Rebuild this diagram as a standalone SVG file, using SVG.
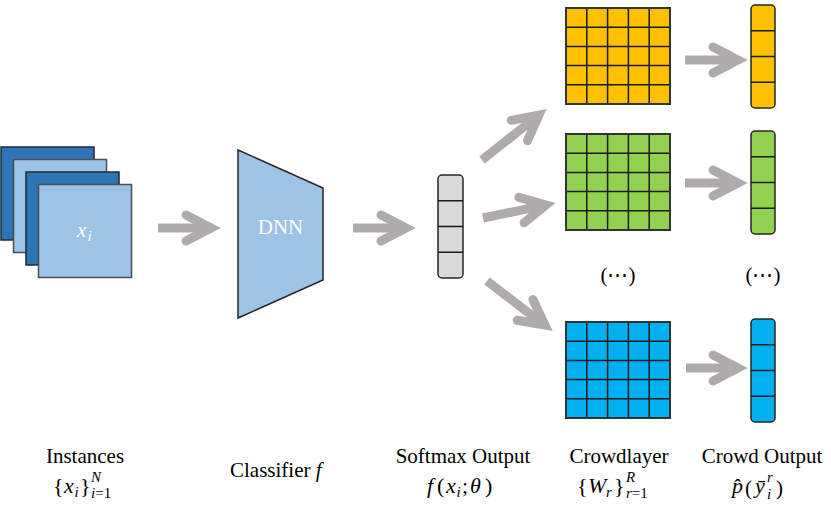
<svg xmlns="http://www.w3.org/2000/svg" width="831" height="506" viewBox="0 0 831 506">
<style>
.bg{fill:#fff}
.dk{fill:#2E75B6;stroke:#1f2a36;stroke-width:1.5}
.lt{fill:#9DC3E6;stroke:#4a4f55;stroke-width:1.5}
.grid{fill:none;stroke:#1a1a1a;stroke-width:1.5}
.y{fill:#FFC000}.g{fill:#92D050}.b{fill:#00B0F0}.s{fill:#D9D9D9}
.vec{stroke:#262626;stroke-width:1.5}
.ar{fill:none;stroke:#AFABAB;stroke-width:9;stroke-linejoin:miter;stroke-linecap:butt}
.hd{fill:none;stroke:#AFABAB;stroke-width:9;stroke-linejoin:miter;stroke-linecap:round}
.t{font-family:"Liberation Serif","Times New Roman",serif;font-size:21px;fill:#000}
.m{font-size:22px}
.it{font-style:italic}
.sm{font-size:15px}
.w{fill:#fff}
</style>
<rect class="bg" x="0" y="0" width="831" height="506"/>

<g id="instances">
  <rect class="dk" x="1" y="147" width="93" height="93"/>
  <rect class="lt" x="13.5" y="159.5" width="93" height="93"/>
  <rect class="dk" x="26" y="172" width="93" height="93"/>
  <rect class="lt" x="38.5" y="184.5" width="93" height="93"/>
  <text class="t w it" x="77" y="237" font-size="22">x</text>
  <text class="t w it sm" x="87.5" y="241">i</text>
</g>

<g id="dnn">
  <polygon points="238,150 323,188 323,280 238,318" fill="#9DC3E6" stroke="#262626" stroke-width="1.5"/>
  <text class="t w" x="280.5" y="234" font-size="18" text-anchor="middle">DNN</text>
</g>

<g id="softmax">
  <rect class="s vec" x="438" y="175" width="25" height="103" rx="4"/>
  <path class="grid" d="M438 200.75H463M438 226.5H463M438 252.25H463"/>
</g>

<g id="crowdlayer-1">
  <rect class="y" x="566" y="8" width="104" height="96"/>
  <path class="grid" d="M586.8 8V104M607.6 8V104M628.4 8V104M649.2 8V104M566 27.2H670M566 46.4H670M566 65.6H670M566 84.8H670"/>
  <rect x="566" y="8" width="104" height="96" fill="none" stroke="#333" stroke-width="2"/>
</g>
<g id="crowdlayer-2">
  <rect class="g" x="566" y="134" width="104" height="96"/>
  <path class="grid" d="M586.8 134V230M607.6 134V230M628.4 134V230M649.2 134V230M566 153.2H670M566 172.4H670M566 191.6H670M566 210.8H670"/>
  <rect x="566" y="134" width="104" height="96" fill="none" stroke="#333" stroke-width="2"/>
</g>
<g id="crowdlayer-r">
  <rect class="b" x="566" y="322" width="104" height="96"/>
  <path class="grid" d="M586.8 322V418M607.6 322V418M628.4 322V418M649.2 322V418M566 341.2H670M566 360.4H670M566 379.6H670M566 398.8H670"/>
  <rect x="566" y="322" width="104" height="96" fill="none" stroke="#333" stroke-width="2"/>
</g>

<g id="output-1">
  <rect class="y vec" x="751" y="5" width="24" height="103" rx="4"/>
  <path class="grid" d="M751 30.75H775M751 56.5H775M751 82.25H775"/>
</g>
<g id="output-2">
  <rect class="g vec" x="751" y="131" width="24" height="103" rx="4"/>
  <path class="grid" d="M751 156.75H775M751 182.5H775M751 208.25H775"/>
</g>
<g id="output-r">
  <rect class="b vec" x="751" y="319" width="24" height="103" rx="4"/>
  <path class="grid" d="M751 344.75H775M751 370.5H775M751 396.25H775"/>
</g>

<g id="ellipses">
  <text class="t" x="618" y="282" font-size="14" text-anchor="middle">(⋯)</text>
  <text class="t" x="763" y="282" font-size="14" text-anchor="middle">(⋯)</text>
</g>

<g id="connectors">
  <path class="ar" d="M158 228H209"/>
  <path class="hd" d="M186 215L211 228L186 241"/>
  <path class="ar" d="M353 228H404"/>
  <path class="hd" d="M381 215L406 228L381 241"/>
  <path class="ar" d="M482 160L537 116.5"/>
  <path class="hd" d="M511.3 120.3L539 115L527.5 140.7"/>
  <path class="ar" d="M483 218L544 205.4"/>
  <path class="hd" d="M518.9 197.3L546 205L524.1 222.8"/>
  <path class="ar" d="M487 281L543 323.8"/>
  <path class="hd" d="M532.9 299.5L545 325L517.2 320.3"/>
  <path class="ar" d="M685 60H736"/>
  <path class="hd" d="M713 47L738 60L713 73"/>
  <path class="ar" d="M685 183H736"/>
  <path class="hd" d="M713 170L738 183L713 196"/>
  <path class="ar" d="M686 368H736"/>
  <path class="hd" d="M713 355L738 368L713 381"/>
</g>

<g id="labels">
  <text class="t" x="85" y="463" text-anchor="middle">Instances</text>
  <text class="t m" x="53" y="493">{</text>
  <text class="t m it" x="64" y="493">x</text>
  <text class="t it sm" x="74.5" y="497">i</text>
  <text class="t m" x="80" y="493">}</text>
  <text class="t it sm" x="91" y="482">N</text>
  <text class="t sm" x="91" y="498"><tspan class="it">i</tspan>=1</text>

  <text class="t" x="230" y="477">Classifier <tspan class="it">f</tspan></text>

  <text class="t" x="463" y="463" text-anchor="middle">Softmax Output</text>
  <text class="t m it" x="427" y="493">f</text>
  <text class="t m" x="437" y="493">(</text>
  <text class="t m it" x="446" y="493">x</text>
  <text class="t it sm" x="456.5" y="497">i</text>
  <text class="t m" x="462" y="493">;</text>
  <text class="t m it" x="470" y="493">θ</text>
  <text class="t m" x="485" y="493">)</text>

  <text class="t" x="619" y="463" text-anchor="middle">Crowdlayer</text>
  <text class="t m" x="577" y="493">{</text>
  <text class="t m it" x="588" y="493">W</text>
  <text class="t it sm" x="606" y="497">r</text>
  <text class="t m" x="614" y="493">}</text>
  <text class="t it sm" x="626" y="482">R</text>
  <text class="t sm" x="626" y="498"><tspan class="it">r</tspan>=1</text>

  <text class="t" x="762" y="463" text-anchor="middle">Crowd Output</text>
  <text class="t m it" x="732" y="493">p̂</text>
  <text class="t" x="745" y="495" font-size="26">(</text>
  <text class="t m it" x="755" y="493">ȳ</text>
  <text class="t it sm" x="767" y="482">r</text>
  <text class="t it sm" x="767" y="499">i</text>
  <text class="t" x="776" y="495" font-size="26">)</text>
</g>
</svg>
